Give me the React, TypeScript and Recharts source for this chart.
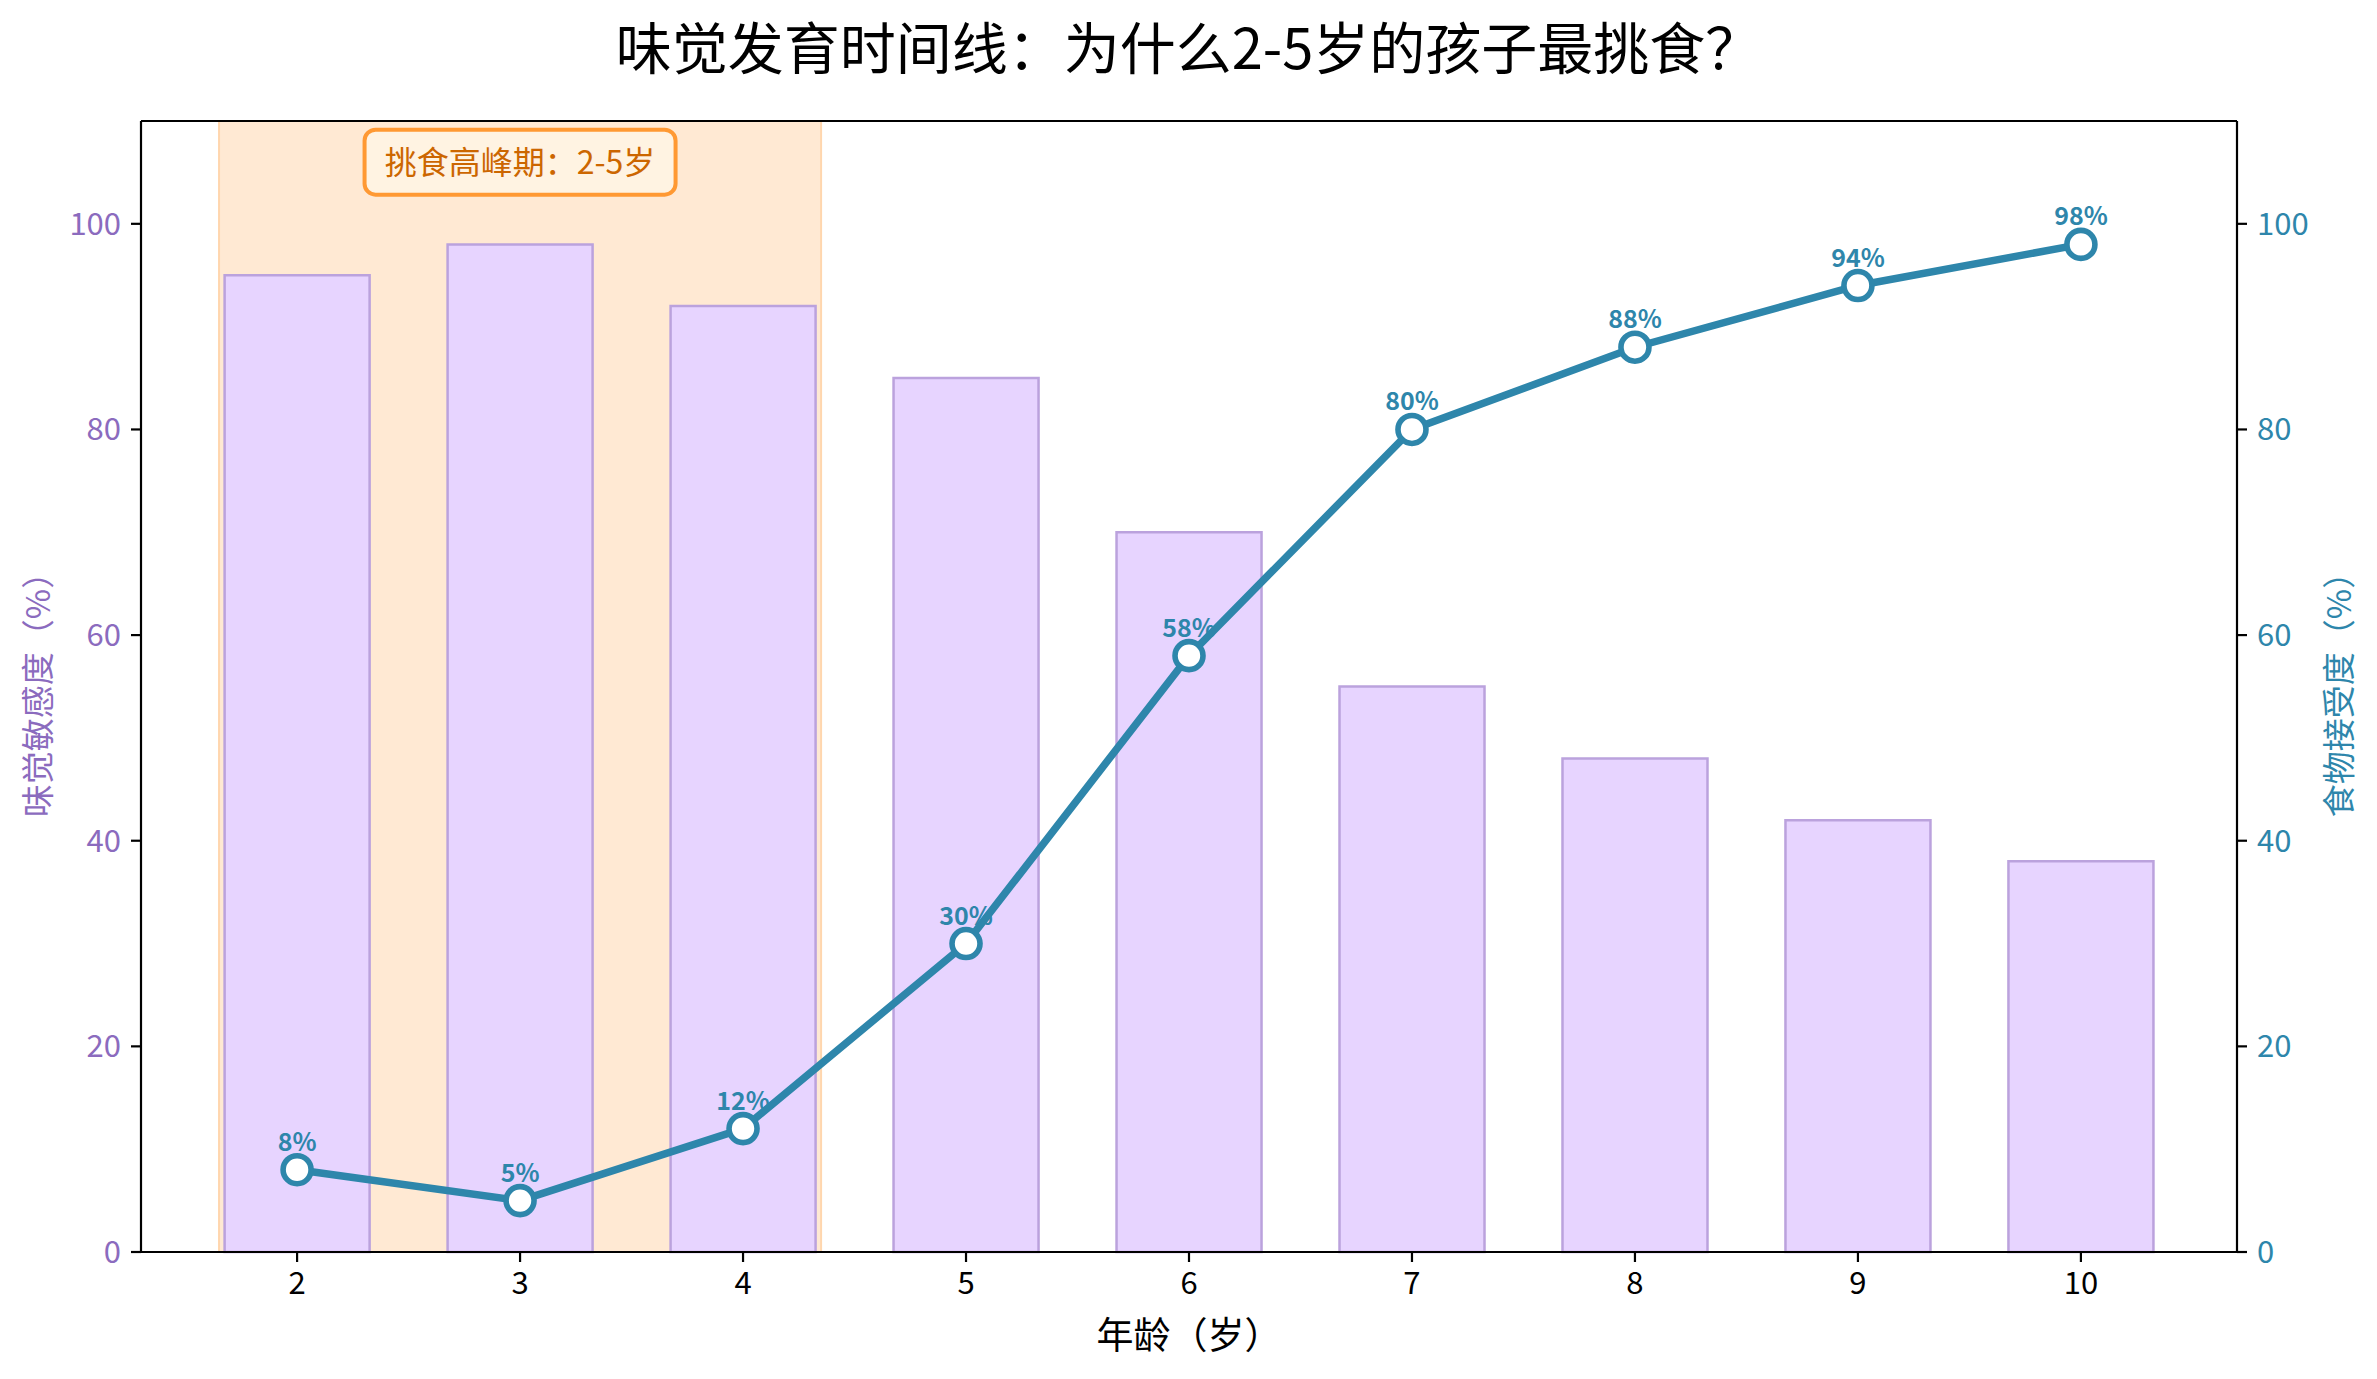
import React from "react";
import {
  Bar,
  ComposedChart,
  LabelList,
  Line,
  ReferenceArea,
  ReferenceDot,
  ReferenceLine,
  XAxis,
  YAxis,
} from "recharts";

// 年龄（岁）
const ages = [2, 3, 4, 5, 6, 7, 8, 9, 10];
// 味觉敏感度（%）
const sensitivity = [95, 98, 92, 85, 70, 55, 48, 42, 38];
// 食物接受度（%）
const acceptance = [8, 5, 12, 30, 58, 80, 88, 94, 98];

const xDomain = [1.3, 10.7];
const yDomain = [0, 110];
const yTicks = [0, 20, 40, 60, 80, 100];

const pickyRange = [1.65, 4.35];
const pickyNote = "挑食高峰期：2-5岁";
const pickyNoteAt = { x: 3, y: 106 };

const title = "味觉发育时间线：为什么2-5岁的孩子最挑食？";
const xLabel = "年龄（岁）";
const leftLabel = "味觉敏感度（%）";
const rightLabel = "食物接受度（%）";

const PURPLE = "#8B6BBE";
const BLUE = "#2E86AB";
const FONT = '"Noto Sans CJK SC", "Noto Sans", sans-serif';

const data = ages.map((age, i) => ({
  age,
  sensitivity: sensitivity[i],
  acceptance: acceptance[i],
}));

const axisLine = { stroke: "#000", strokeWidth: 2.2 };
const tickLine = { stroke: "#000", strokeWidth: 2.2 };

function NoteBox(props: any) {
  const { cx, cy } = props;
  const w = 311;
  const h = 65;
  return (
    <g>
      <rect
        x={cx - w / 2}
        y={cy - h / 2}
        width={w}
        height={h}
        rx={11}
        ry={11}
        fill="#FFF3E2"
        stroke="#FF9933"
        strokeWidth={4}
      />
      <text
        x={cx}
        y={cy}
        dy="0.36em"
        textAnchor="middle"
        fontSize={32}
        fill="#CC6600"
        fontFamily={FONT}
      >
        {pickyNote}
      </text>
    </g>
  );
}

export default function App() {
  return (
    <div
      style={{
        position: "absolute",
        left: 0,
        top: 0,
        width: 2377,
        height: 1379,
        background: "#fff",
        fontFamily: FONT,
      }}
    >
      <div
        style={{
          position: "absolute",
          left: 0,
          top: 17,
          width: 2377,
          textAlign: "center",
          fontSize: 56,
          lineHeight: "56px",
          color: "#000",
          whiteSpace: "nowrap",
        }}
      >
        {title}
      </div>
      <ComposedChart
        width={2377}
        height={1379}
        data={data}
        margin={{ top: 121, right: 0, bottom: 0, left: 0 }}
        barCategoryGap="17.5%"
      >
        <ReferenceArea
          x1={pickyRange[0]}
          x2={pickyRange[1]}
          yAxisId="left"
          fill="#FFE9D3"
          fillOpacity={1}
          stroke="#FFD6AE"
          strokeWidth={2}
          ifOverflow="hidden"
        />
        <XAxis
          dataKey="age"
          type="number"
          domain={xDomain}
          ticks={ages}
          height={127}
          axisLine={axisLine}
          tickLine={tickLine}
          tickSize={10}
          tickMargin={10}
          tick={{ fill: "#000", fontSize: 31 }}
          label={{
            value: xLabel,
            position: "center",
            dy: 20,
            fontSize: 37,
            fill: "#000",
          }}
        />
        <YAxis
          yAxisId="left"
          orientation="left"
          domain={yDomain}
          ticks={yTicks}
          width={141}
          axisLine={axisLine}
          tickLine={tickLine}
          tickSize={10}
          tickMargin={10}
          tick={{ fill: PURPLE, fontSize: 31 }}
          label={{
            value: leftLabel,
            angle: -90,
            position: "center",
            dx: -32,
            fontSize: 33,
            fill: PURPLE,
          }}
        />
        <YAxis
          yAxisId="right"
          orientation="right"
          domain={yDomain}
          ticks={yTicks}
          width={140}
          axisLine={axisLine}
          tickLine={tickLine}
          tickSize={10}
          tickMargin={10}
          tick={{ fill: BLUE, fontSize: 31 }}
          label={{
            value: rightLabel,
            angle: -90,
            position: "center",
            dx: 32,
            fontSize: 33,
            fill: BLUE,
          }}
        />
        <Bar
          yAxisId="left"
          dataKey="sensitivity"
          fill="#E7D4FF"
          stroke="#BBA2DD"
          strokeWidth={2.5}
          isAnimationActive={false}
        />
        <Line
          yAxisId="right"
          dataKey="acceptance"
          type="linear"
          stroke={BLUE}
          strokeWidth={7.5}
          dot={{ r: 14, fill: "#fff", stroke: BLUE, strokeWidth: 5.6 }}
          activeDot={false}
          isAnimationActive={false}
        >
          <LabelList
            dataKey="acceptance"
            position="top"
            offset={19}
            formatter={(v: any) => `${v}%`}
            fill={BLUE}
            fontSize={25}
            fontWeight="bold"
          />
        </Line>
        <ReferenceLine
          yAxisId="left"
          y={yDomain[1]}
          stroke="#000"
          strokeWidth={2.2}
          ifOverflow="visible"
        />
        <ReferenceDot
          yAxisId="left"
          x={pickyNoteAt.x}
          y={pickyNoteAt.y}
          r={0}
          shape={NoteBox}
          ifOverflow="visible"
        />
      </ComposedChart>
    </div>
  );
}
